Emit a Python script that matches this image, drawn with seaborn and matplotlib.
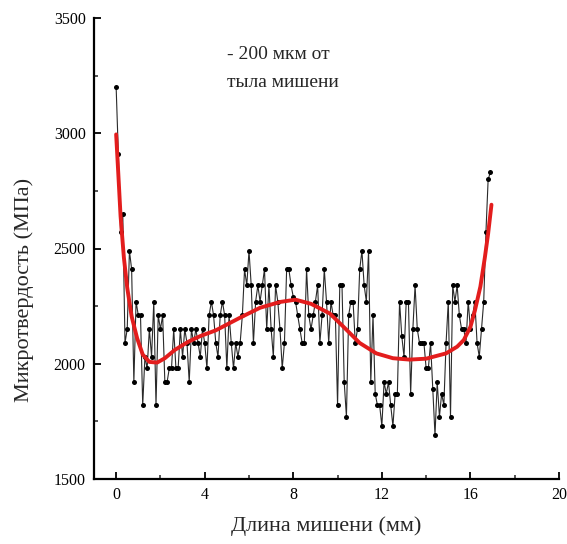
import numpy as np
import pandas as pd
import matplotlib
matplotlib.use("Agg")
import matplotlib.pyplot as plt
import seaborn as sns
from matplotlib.ticker import MultipleLocator

# measured microhardness, one point every 0.1 mm from 0.0 to 16.9 mm
hardness = [
    3200, 2910, 2570, 2650, 2090, 2150, 2490, 2410, 1920, 2270,
    2210, 2210, 1820, 2030, 1980, 2150, 2030, 2270, 1820, 2210,
    2150, 2210, 1920, 1920, 1980, 1980, 2150, 1980, 1980, 2150,
    2030, 2150, 2090, 1920, 2150, 2090, 2150, 2090, 2030, 2150,
    2090, 1980, 2210, 2270, 2210, 2090, 2030, 2210, 2270, 2210,
    1980, 2210, 2090, 1980, 2090, 2030, 2090, 2210, 2410, 2340,
    2490, 2340, 2090, 2270, 2340, 2270, 2340, 2410, 2150, 2340,
    2150, 2030, 2340, 2270, 2150, 1980, 2090, 2410, 2410, 2340,
    2290, 2270, 2210, 2150, 2090, 2090, 2410, 2210, 2150, 2210,
    2270, 2340, 2090, 2210, 2410, 2270, 2090, 2270, 2210, 2210,
    1820, 2340, 2340, 1920, 1770, 2210, 2270, 2270, 2090, 2150,
    2410, 2490, 2340, 2270, 2490, 1920, 2210, 1870, 1820, 1820,
    1730, 1920, 1870, 1920, 1820, 1730, 1870, 1870, 2270, 2120,
    2030, 2270, 2270, 1870, 2150, 2340, 2150, 2090, 2090, 2090,
    1980, 1980, 2090, 1890, 1690, 1920, 1770, 1870, 1820, 2090,
    2270, 1770, 2340, 2270, 2340, 2210, 2150, 2150, 2090, 2270,
    2150, 2210, 2270, 2090, 2030, 2150, 2270, 2570, 2800, 2830,
]
position = [round(i * 0.1, 1) for i in range(len(hardness))]

# fitted trend curve
fit_x = [0.0, 0.1, 0.2, 0.35, 0.5, 0.7, 0.95, 1.2, 1.5, 1.85, 2.2, 2.65,
         3.25, 3.8, 4.5, 5.6, 6.5, 7.4, 8.1, 8.8, 9.65, 10.25, 11.0,
         11.75, 12.5, 13.25, 14.0, 14.9, 15.4, 15.7, 16.0, 16.2, 16.45,
         16.65, 16.8, 16.95]
fit_y = [2995, 2820, 2640, 2460, 2330, 2205, 2110, 2040, 2008, 2005, 2024,
         2060, 2095, 2120, 2145, 2200, 2243, 2268, 2278, 2260, 2218, 2162,
         2090, 2045, 2024, 2018, 2022, 2045, 2074, 2103, 2160, 2230, 2335,
         2460, 2565, 2690]

x_ticks = [0, 4, 8, 12, 16, 20]
y_ticks = [1500, 2000, 2500, 3000, 3500]

df = pd.DataFrame({"x": position, "y": hardness})
fit = pd.DataFrame({"x": fit_x, "y": fit_y})

sns.set_style("ticks")
plt.rcParams["font.family"] = ["Liberation Serif", "DejaVu Serif"]

fig = plt.figure(figsize=(5.67, 5.44), dpi=100)
ax = fig.add_axes([94 / 567, 1 - 479 / 544, (559 - 94) / 567, (479 - 18) / 544])

sns.lineplot(data=df, x="x", y="y", ax=ax, color="#2a2a2a", linewidth=0.8,
             marker="o", markersize=3.6, markerfacecolor="black",
             markeredgecolor="black", markeredgewidth=0, sort=False)
sns.lineplot(data=fit, x="x", y="y", ax=ax, color="#e31d1d", linewidth=2.8,
             sort=False)

ax.set_xlim(-1, 20)
ax.set_ylim(1500, 3500)
ax.set_xticks(x_ticks)
ax.set_yticks(y_ticks)
ax.xaxis.set_minor_locator(MultipleLocator(2))
ax.yaxis.set_minor_locator(MultipleLocator(250))
ax.tick_params(which="major", direction="in", length=5, width=1.3,
               labelsize=11.5, colors="black", pad=6)
ax.tick_params(which="minor", direction="in", length=3, width=1.1)
for s in ["top", "right"]:
    ax.spines[s].set_visible(False)
for s in ["left", "bottom"]:
    ax.spines[s].set_linewidth(1.6)
    ax.spines[s].set_color("black")

ax.set_xlabel("Длина мишени (мм)", fontsize=16, labelpad=9)
ax.set_ylabel("Микротвердость (МПа)", fontsize=16)
ax.yaxis.set_label_coords(-0.13, 0.41)

ax.text(0.285, 0.92, "- 200 мкм от", transform=ax.transAxes,
        fontsize=14, ha="left", va="center")
ax.text(0.285, 0.86, "тыла мишени", transform=ax.transAxes,
        fontsize=14, ha="left", va="center")

fig.savefig("out.png", dpi=100)
